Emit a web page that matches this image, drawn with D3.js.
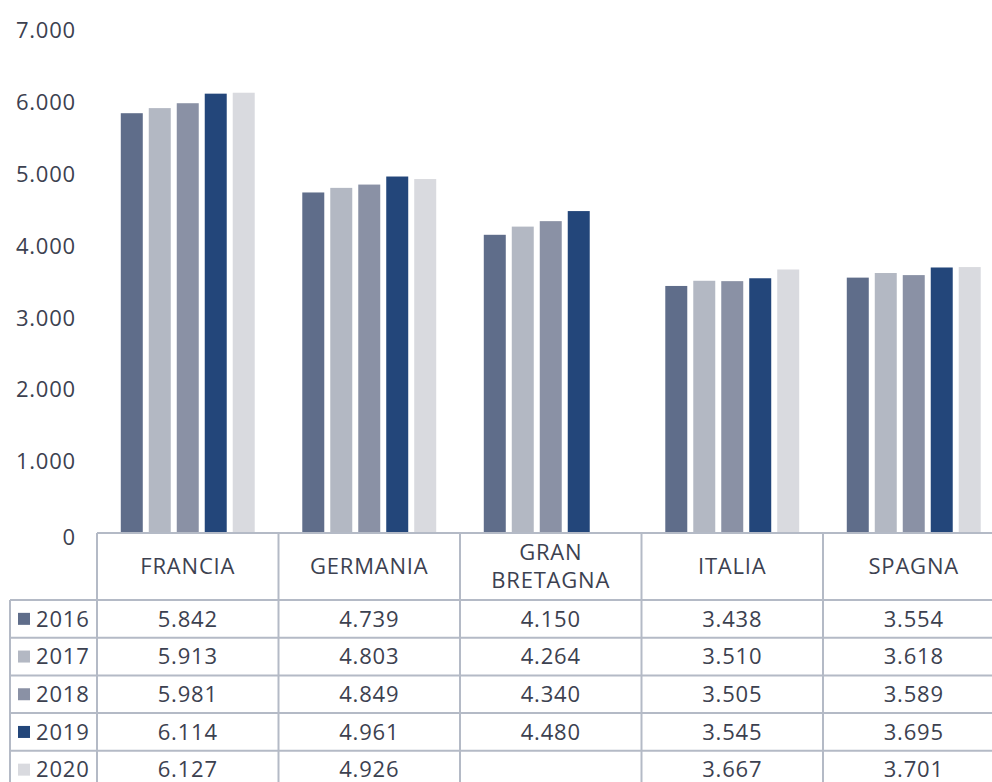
<!DOCTYPE html>
<html>
<head>
<meta charset="utf-8">
<script src="https://cdn.jsdelivr.net/npm/d3@7"></script>
<style>
  body { margin: 0; background: #fff; }
  svg { display: block; font-family: "Open Sans", sans-serif; }
</style>
</head>
<body>
<div id="wrapper"></div>
<script>
// data
const countries = ["FRANCIA", "GERMANIA", "GRAN BRETAGNA", "ITALIA", "SPAGNA"]
const years = ["2016", "2017", "2018", "2019", "2020"]
const values2016 = [5842, 4739, 4150, 3438, 3554]
const values2017 = [5913, 4803, 4264, 3510, 3618]
const values2018 = [5981, 4849, 4340, 3505, 3589]
const values2019 = [6114, 4961, 4480, 3545, 3695]
const values2020 = [6127, 4926, null, 3667, 3701]
const yTicks = [0, 1000, 2000, 3000, 4000, 5000, 6000, 7000]
const colors = ["#5f6d8a", "#b3b8c3", "#8a91a5", "#23467a", "#d9dadf"]

const series = [values2016, values2017, values2018, values2019, values2020]

const dimensions = {
  width: 992,
  height: 782,
  plotLeft: 97,
  plotRight: 1004.5,
  plotTop: 30,
  plotBottom: 533,
  headerHeight: 67,
  rowHeight: 37.7,
  legendLeft: 10,
}

const fontFamily = '"Open Sans", sans-serif'
const fontSize = "22px"
const letterSpacing = "0.8px"
const textColor = "#3c4150"
const lineColor = "#b4bac6"

const itFormat = d3.formatLocale({
  decimal: ",", thousands: ".", grouping: [3], currency: ["€", ""]
}).format(",.0f")

const wrapper = d3.select("#wrapper")
  .append("svg")
  .attr("width", dimensions.width)
  .attr("height", dimensions.height)

// scales
const xScaler = d3.scaleBand()
  .domain(countries)
  .range([dimensions.plotLeft, dimensions.plotRight])

const yearScaler = d3.scaleBand()
  .domain(years)
  .range([0, xScaler.bandwidth()])
  .paddingInner(6 / 28)
  .paddingOuter(0.85)

const yScaler = d3.scaleLinear()
  .domain([0, 7000])
  .range([dimensions.plotBottom, dimensions.plotTop])

// y axis
const yAxis = wrapper.append("g")
  .attr("transform", `translate(76, 0)`)
  .call(d3.axisLeft(yScaler).tickValues(yTicks).tickFormat(itFormat).tickSize(0).tickPadding(0))
  .attr("font-family", fontFamily)
  .attr("font-size", fontSize)
  .attr("letter-spacing", letterSpacing)
yAxis.select(".domain").remove()
yAxis.selectAll("text")
  .attr("fill", textColor)
  .attr("dy", d => d === 0 ? "0.5em" : "0.35em")

// bars
const barData = []
series.forEach((vals, i) => {
  vals.forEach((v, j) => {
    if (v != null) barData.push({ year: years[i], country: countries[j], value: v, color: colors[i] })
  })
})

wrapper.append("g")
  .selectAll("rect")
  .data(barData)
  .join("rect")
  .attr("x", d => xScaler(d.country) + yearScaler(d.year))
  .attr("y", d => yScaler(d.value))
  .attr("width", yearScaler.bandwidth())
  .attr("height", d => yScaler(0) - yScaler(d.value))
  .attr("fill", d => d.color)

// data table
const table = wrapper.append("g")
  .attr("font-family", fontFamily)
  .attr("font-size", fontSize)
  .attr("letter-spacing", letterSpacing)
const tableTop = dimensions.plotBottom
const headerBottom = tableTop + dimensions.headerHeight
const rowY = i => headerBottom + i * dimensions.rowHeight
const tableBottom = rowY(years.length)

const gridLine = (x1, y1, x2, y2) => table.append("line")
  .attr("x1", x1).attr("y1", y1).attr("x2", x2).attr("y2", y2)
  .attr("stroke", lineColor)
  .attr("stroke-width", 2)

// horizontal lines
gridLine(dimensions.plotLeft, tableTop, dimensions.plotRight, tableTop)
d3.range(years.length + 1).forEach(i => {
  gridLine(dimensions.legendLeft, rowY(i), dimensions.plotRight, rowY(i))
})
// vertical lines
gridLine(dimensions.legendLeft, headerBottom, dimensions.legendLeft, tableBottom)
countries.forEach(c => gridLine(xScaler(c), tableTop, xScaler(c), tableBottom))
gridLine(dimensions.plotRight, tableTop, dimensions.plotRight, tableBottom)

// header labels
const headerLines = {
  "GRAN BRETAGNA": ["GRAN", "BRETAGNA"],
}
countries.forEach(c => {
  const lines = headerLines[c] || [c]
  const cx = xScaler(c) + xScaler.bandwidth() / 2
  const cy = tableTop + dimensions.headerHeight / 2
  lines.forEach((l, k) => {
    table.append("text")
      .attr("x", cx)
      .attr("y", cy + (k - (lines.length - 1) / 2) * 27.5)
      .attr("dy", "0.35em")
      .attr("text-anchor", "middle")
      .attr("fill", textColor)
      .text(l)
  })
})

// rows
years.forEach((y, i) => {
  const cy = rowY(i) + dimensions.rowHeight / 2
  table.append("rect")
    .attr("x", 18)
    .attr("y", cy - 6)
    .attr("width", 12)
    .attr("height", 12)
    .attr("fill", colors[i])
  table.append("text")
    .attr("x", 36)
    .attr("y", cy)
    .attr("dy", "0.35em")
    .attr("fill", textColor)
    .text(y)
  series[i].forEach((v, j) => {
    if (v == null) return
    table.append("text")
      .attr("x", xScaler(countries[j]) + xScaler.bandwidth() / 2)
      .attr("y", cy)
      .attr("dy", "0.35em")
      .attr("text-anchor", "middle")
      .attr("fill", textColor)
      .text(itFormat(v))
  })
})
</script>
</body>
</html>
